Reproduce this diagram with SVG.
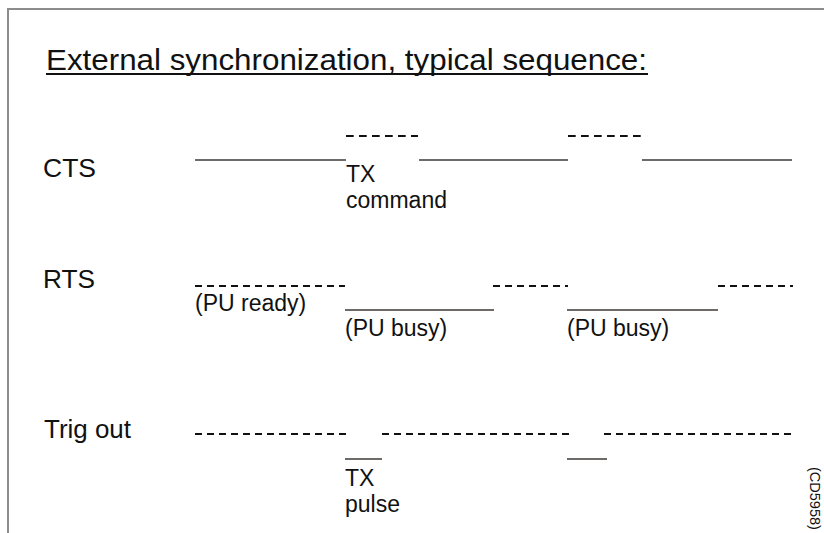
<svg xmlns="http://www.w3.org/2000/svg" width="824" height="533" viewBox="0 0 824 533">
<style>
text{font-family:"Liberation Sans",Arial,sans-serif;fill:#111;}
.lbl{font-size:25px;}
.sm{font-size:23px;}
.solid{stroke:#6e6a68;stroke-width:2;fill:none;}
.dashA{stroke:#111;stroke-width:2.2;stroke-dasharray:7.7 5.3;fill:none;}
.dashB{stroke:#111;stroke-width:2;stroke-dasharray:7 5;fill:none;}
</style>
<rect x="0" y="0" width="824" height="533" fill="#fff"/>
<rect id="frame" x="8" y="9" width="830" height="540" fill="none" stroke="#8c8c8c" stroke-width="2"/>
<g id="title">
<text x="46" y="70" style="font-size:29px" textLength="601" lengthAdjust="spacingAndGlyphs">External synchronization, typical sequence:</text>
<line x1="46" y1="74" x2="648" y2="74" stroke="#111" stroke-width="2"/>
</g>
<g id="cts">
<text class="lbl" x="43" y="177" textLength="53" lengthAdjust="spacingAndGlyphs">CTS</text>
<text class="sm" x="346" y="182">TX</text>
<text class="sm" x="346" y="208">command</text>
</g>
<g id="rts">
<text class="lbl" x="43" y="288" textLength="52" lengthAdjust="spacingAndGlyphs">RTS</text>
<text class="sm" x="195" y="311">(PU ready)</text>
<text class="sm" x="345" y="336">(PU busy)</text>
<text class="sm" x="567" y="336">(PU busy)</text>
</g>
<g id="trig">
<text class="lbl" x="44" y="438" textLength="87" lengthAdjust="spacingAndGlyphs">Trig out</text>
<text class="sm" x="345" y="486">TX</text>
<text class="sm" x="345" y="512">pulse</text>
</g>
<g id="signals">
<line class="solid" x1="195" y1="160" x2="346" y2="160"/>
<line class="dashA" x1="346" y1="136" x2="418" y2="136"/>
<line class="solid" x1="419" y1="160" x2="568" y2="160"/>
<line class="dashA" x1="568" y1="136" x2="641" y2="136"/>
<line class="solid" x1="642" y1="160" x2="792" y2="160"/>
<line class="dashB" x1="195" y1="286" x2="345" y2="286"/>
<line class="solid" x1="345" y1="310" x2="494" y2="310"/>
<line class="dashB" x1="493" y1="286" x2="568" y2="286"/>
<line class="solid" x1="567" y1="310" x2="718" y2="310"/>
<line class="dashB" x1="718" y1="286" x2="793" y2="286"/>
<line class="dashB" x1="195" y1="434" x2="346" y2="434"/>
<line class="solid" x1="345" y1="459" x2="382" y2="459"/>
<line class="dashB" x1="382" y1="434" x2="570" y2="434"/>
<line class="solid" x1="567" y1="459" x2="607" y2="459"/>
<line class="dashB" x1="604" y1="434" x2="793" y2="434"/>
</g>
<text id="ref" x="810" y="467" transform="rotate(90 810 467)" style="font-size:14.5px">(CD5958)</text>
</svg>
